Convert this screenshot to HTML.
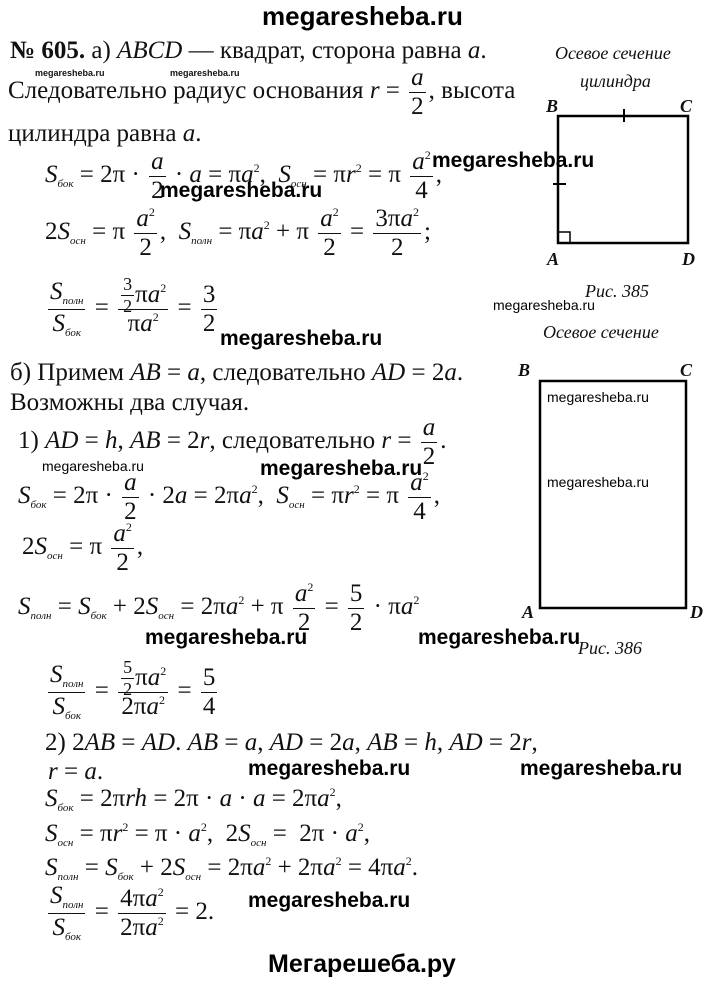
<!DOCTYPE html>
<html><head><meta charset="utf-8"><style>
body{margin:0;background:#fff;}
#p{position:relative;width:720px;height:986px;overflow:hidden;font-family:"Liberation Serif",serif;color:#111;}
.t{position:absolute;white-space:nowrap;font-size:25px;line-height:1;}
.i{font-style:italic}
.w{position:absolute;white-space:nowrap;font-family:"Liberation Sans",sans-serif;font-weight:bold;font-size:21px;line-height:1;color:#000}
.s{position:absolute;white-space:nowrap;font-family:"Liberation Sans",sans-serif;font-size:14px;line-height:1;color:#000}
.ws{position:absolute;white-space:nowrap;font-family:"Liberation Sans",sans-serif;font-weight:bold;font-size:9px;line-height:1}
.f{display:inline-flex;flex-direction:column;align-items:center;justify-content:center;vertical-align:middle;height:0;line-height:1.05;margin:0 3px}
.f>span:first-child{border-bottom:1px solid #111;padding:0 2px 1px}
.f>span:last-child{padding-top:1px}
.sm{font-size:0.72em;margin:0 1px}
sub{font-size:11px;font-style:italic;vertical-align:-5px}
sup{font-size:12px;vertical-align:10px;line-height:0}
.c{position:absolute;font-style:italic;font-weight:bold;font-size:18px;line-height:1}
.cap{position:absolute;font-style:italic;font-size:18px;line-height:1;white-space:nowrap}
</style></head><body><div id="p">
<div class="w" style="left:262px;top:3px;font-size:26px">megaresheba.ru</div>

<div class="t" style="left:10px;top:38px"><b>№ 605.</b> а) <span class="i">ABCD</span> — квадрат, сторона равна <span class="i">a</span>.</div>
<div class="ws" style="left:35px;top:69px">megaresheba.ru</div>
<div class="ws" style="left:170px;top:69px">megaresheba.ru</div>
<div class="t" style="left:8px;top:78px">Следовательно радиус основания <span class="i">r</span> = <span class="f"><span class="i">a</span><span>2</span></span>, высота</div>
<div class="t" style="left:8px;top:121px">цилиндра равна <span class="i">a</span>.</div>
<div class="t" style="left:45px;top:162px"><span class="i">S</span><sub>бок</sub> = 2π · <span class="f"><span class="i">a</span><span>2</span></span> · <span class="i">a</span> = π<span class="i">a</span><sup>2</sup>,&nbsp; <span class="i">S</span><sub>осн</sub> = π<span class="i">r</span><sup>2</sup> = π <span class="f"><span><span class="i">a</span><sup>2</sup></span><span>4</span></span>,</div>
<div class="w" style="left:432px;top:150px">megaresheba.ru</div>
<div class="w" style="left:160px;top:180px">megaresheba.ru</div>
<div class="t" style="left:45px;top:219px">2<span class="i">S</span><sub>осн</sub> = π <span class="f"><span><span class="i">a</span><sup>2</sup></span><span>2</span></span>,&nbsp; <span class="i">S</span><sub>полн</sub> = π<span class="i">a</span><sup>2</sup> + π <span class="f"><span><span class="i">a</span><sup>2</sup></span><span>2</span></span> = <span class="f"><span>3π<span class="i">a</span><sup>2</sup></span><span>2</span></span>;</div>
<div class="t" style="left:45px;top:295px"><span class="f"><span><span class="i">S</span><sub>полн</sub></span><span><span class="i">S</span><sub>бок</sub></span></span> = <span class="f"><span><span class="f sm"><span>3</span><span>2</span></span>π<span class="i">a</span><sup>2</sup></span><span>π<span class="i">a</span><sup>2</sup></span></span> = <span class="f"><span>3</span><span>2</span></span></div>
<div class="w" style="left:220px;top:328px">megaresheba.ru</div>

<div class="t" style="left:10px;top:360px">б) Примем <span class="i">AB</span> = <span class="i">a</span>, следовательно <span class="i">AD</span> = 2<span class="i">a</span>.</div>
<div class="t" style="left:10px;top:390px">Возможны два случая.</div>
<div class="t" style="left:18px;top:428px">1) <span class="i">AD</span> = <span class="i">h</span>, <span class="i">AB</span> = 2<span class="i">r</span>, следовательно <span class="i">r</span> = <span class="f"><span class="i">a</span><span>2</span></span>.</div>
<div class="s" style="left:42px;top:459px">megaresheba.ru</div>
<div class="w" style="left:260px;top:458px">megaresheba.ru</div>
<div class="t" style="left:18px;top:483px"><span class="i">S</span><sub>бок</sub> = 2π · <span class="f"><span class="i">a</span><span>2</span></span> · 2<span class="i">a</span> = 2π<span class="i">a</span><sup>2</sup>,&nbsp; <span class="i">S</span><sub>осн</sub> = π<span class="i">r</span><sup>2</sup> = π <span class="f"><span><span class="i">a</span><sup>2</sup></span><span>4</span></span>,</div>
<div class="t" style="left:22px;top:534px">2<span class="i">S</span><sub>осн</sub> = π <span class="f"><span><span class="i">a</span><sup>2</sup></span><span>2</span></span>,</div>
<div class="t" style="left:18px;top:594px"><span class="i">S</span><sub>полн</sub> = <span class="i">S</span><sub>бок</sub> + 2<span class="i">S</span><sub>осн</sub> = 2π<span class="i">a</span><sup>2</sup> + π <span class="f"><span><span class="i">a</span><sup>2</sup></span><span>2</span></span> = <span class="f"><span>5</span><span>2</span></span> · π<span class="i">a</span><sup>2</sup></div>
<div class="w" style="left:145px;top:627px">megaresheba.ru</div>
<div class="w" style="left:418px;top:627px">megaresheba.ru</div>
<div class="t" style="left:45px;top:678px"><span class="f"><span><span class="i">S</span><sub>полн</sub></span><span><span class="i">S</span><sub>бок</sub></span></span> = <span class="f"><span><span class="f sm"><span>5</span><span>2</span></span>π<span class="i">a</span><sup>2</sup></span><span>2π<span class="i">a</span><sup>2</sup></span></span> = <span class="f"><span>5</span><span>4</span></span></div>
<div class="t" style="left:45px;top:730px">2) 2<span class="i">AB</span> = <span class="i">AD</span>. <span class="i">AB</span> = <span class="i">a</span>, <span class="i">AD</span> = 2<span class="i">a</span>, <span class="i">AB</span> = <span class="i">h</span>, <span class="i">AD</span> = 2<span class="i">r</span>,</div>
<div class="t" style="left:48px;top:759px"><span class="i">r</span> = <span class="i">a</span>.</div>
<div class="w" style="left:248px;top:758px">megaresheba.ru</div>
<div class="w" style="left:520px;top:758px">megaresheba.ru</div>
<div class="t" style="left:45px;top:786px"><span class="i">S</span><sub>бок</sub> = 2π<span class="i">rh</span> = 2π · <span class="i">a</span> · <span class="i">a</span> = 2π<span class="i">a</span><sup>2</sup>,</div>
<div class="t" style="left:45px;top:821px"><span class="i">S</span><sub>осн</sub> = π<span class="i">r</span><sup>2</sup> = π · <span class="i">a</span><sup>2</sup>,&nbsp; 2<span class="i">S</span><sub>осн</sub> = &nbsp;2π · <span class="i">a</span><sup>2</sup>,</div>
<div class="t" style="left:45px;top:855px"><span class="i">S</span><sub>полн</sub> = <span class="i">S</span><sub>бок</sub> + 2<span class="i">S</span><sub>осн</sub> = 2π<span class="i">a</span><sup>2</sup> + 2π<span class="i">a</span><sup>2</sup> = 4π<span class="i">a</span><sup>2</sup>.</div>
<div class="t" style="left:45px;top:899px"><span class="f"><span><span class="i">S</span><sub>полн</sub></span><span><span class="i">S</span><sub>бок</sub></span></span> = <span class="f"><span>4π<span class="i">a</span><sup>2</sup></span><span>2π<span class="i">a</span><sup>2</sup></span></span> = 2.</div>
<div class="w" style="left:248px;top:890px">megaresheba.ru</div>
<div class="w" style="left:268px;top:952px;font-size:25px">Мегарешеба.ру</div>

<!-- figure 385 -->
<div class="cap" style="left:555px;top:44px">Осевое сечение</div>
<div class="cap" style="left:580px;top:72px">цилиндра</div>
<svg style="position:absolute;left:0;top:0" width="720" height="986">
<rect x="558" y="116" width="130" height="127" fill="none" stroke="#000" stroke-width="2.5"/>
<line x1="624" y1="109" x2="624" y2="122" stroke="#000" stroke-width="2"/>
<line x1="553" y1="184" x2="566" y2="184" stroke="#000" stroke-width="2"/>
<polyline points="558,232 570,232 570,243" fill="none" stroke="#000" stroke-width="1.5"/>
<rect x="540" y="381" width="146" height="227" fill="none" stroke="#000" stroke-width="2.5"/>
</svg>
<div class="c" style="left:546px;top:97px">B</div>
<div class="c" style="left:680px;top:97px">C</div>
<div class="c" style="left:547px;top:250px">A</div>
<div class="c" style="left:682px;top:250px">D</div>
<div class="cap" style="left:585px;top:282px">Рис. 385</div>
<div class="s" style="left:493px;top:298px">megaresheba.ru</div>
<div class="cap" style="left:543px;top:323px">Осевое сечение</div>

<!-- figure 386 -->
<div class="c" style="left:518px;top:361px">B</div>
<div class="c" style="left:680px;top:361px">C</div>
<div class="c" style="left:522px;top:603px">A</div>
<div class="c" style="left:690px;top:603px">D</div>
<div class="s" style="left:547px;top:390px">megaresheba.ru</div>
<div class="s" style="left:547px;top:475px">megaresheba.ru</div>
<div class="cap" style="left:578px;top:639px">Рис. 386</div>
</div></body></html>
